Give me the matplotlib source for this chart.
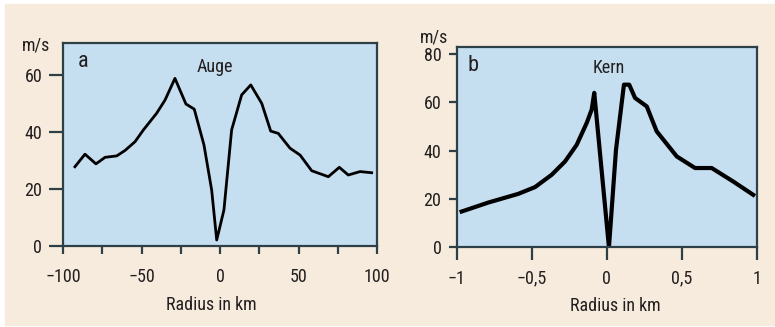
import numpy as np
import matplotlib
matplotlib.use("Agg")
import matplotlib.pyplot as plt
from matplotlib.patches import Rectangle
from matplotlib.ticker import MultipleLocator

plt.rcParams['font.family'] = ['Roboto Condensed', 'Liberation Sans Narrow', 'Lato', 'DejaVu Sans']

# panel a: Auge
radius_a = [-92.4, -86, -79, -73.2, -65.8, -60.5, -54.1, -48.8, -40.3, -35, -28.7,
            -21.7, -16.4, -10.2, -5.3, -2.1, 2.5, 7.4, 13.8, 19.6, 26.6, 32.3,
            37.1, 44.6, 51, 58.4, 69, 76, 81.7, 89.2, 96.6]
speed_a = [27.8, 32.2, 28.8, 31.1, 31.6, 33.5, 36.6, 40.7, 46.6, 51.2, 58.8,
           49.8, 48, 35.4, 19.6, 2.1, 12.6, 40.7, 53, 56.5, 50, 40.3,
           39.5, 34.3, 31.9, 26.4, 24.3, 27.6, 24.9, 26.1, 25.7]

# panel b: Kern
radius_b = [-0.967, -0.79, -0.59, -0.478, -0.367, -0.278, -0.2, -0.133, -0.1, -0.083,
            0.015, 0.062, 0.115, 0.15, 0.189, 0.267, 0.333, 0.467, 0.589, 0.7,
            0.844, 0.977]
speed_b = [14.8, 18.5, 22.1, 24.9, 30, 35.5, 42.4, 51.5, 57, 63.9,
           0, 40.4, 67.3, 67.3, 61.8, 58.3, 48, 37.6, 32.8, 32.8,
           27.2, 21.7]

xticks_a = [-100, -50, 0, 50, 100]
xlabels_a = ['\u2212100', '\u221250', '0', '50', '100']
yticks_a = [0, 20, 40, 60]
xticks_b = [-1, -0.5, 0, 0.5, 1]
xlabels_b = ['\u22121', '\u22120,5', '0', '0,5', '1']
yticks_b = [0, 20, 40, 60, 80]

beige = '#f6ebdc'
blue = '#c5def0'
spine = '#2d3f47'
txt = '#231f20'
fs = 13

fig = plt.figure(figsize=(7.75, 3.27), dpi=100, facecolor='white')
bg = Rectangle((5 / 775, 2 / 327), 770 / 775, 321 / 327,
               transform=fig.transFigure, color=beige, zorder=-10)
fig.add_artist(bg)

ax1 = fig.add_axes([63 / 775, 81 / 327, 314 / 775, 203 / 327])
ax2 = fig.add_axes([456.7 / 775, 79.7 / 327, 300 / 775, 200.6 / 327])

ax1.plot(radius_a, speed_a, color='black', lw=2.0, solid_joinstyle='round')
ax2.plot(radius_b, speed_b, color='black', lw=3.0, solid_joinstyle='round')

ax1.set_xlim(-100, 100)
ax1.set_ylim(0, 71.2)
ax1.set_xticks(xticks_a)
ax1.set_xticklabels(xlabels_a)
ax1.xaxis.set_minor_locator(MultipleLocator(25))
ax1.set_yticks(yticks_a)

ax2.set_xlim(-1, 1)
ax2.set_ylim(0, 83)
ax2.set_xticks(xticks_b)
ax2.set_xticklabels(xlabels_b)
ax2.set_yticks(yticks_b)

for ax in (ax1, ax2):
    ax.set_facecolor(blue)
    for s in ax.spines.values():
        s.set_color(spine)
        s.set_linewidth(1.6)
    ax.tick_params(which='both', color=spine, labelcolor=txt, labelsize=fs, width=1.6)
    ax.set_xlabel('Radius in km', fontsize=fs, color=txt)

ax1.tick_params(axis='x', which='both', length=6, pad=10)
ax1.tick_params(axis='y', length=10, pad=5)
ax2.tick_params(axis='x', length=9, pad=7)
ax2.tick_params(axis='y', length=6, pad=5)
ax1.xaxis.set_label_coords(0.471, -0.245)
ax2.xaxis.set_label_coords(0.529, -0.25)

ax1.text(-0.041, 0.99, 'm/s', transform=ax1.transAxes, ha='right', va='center',
         fontsize=fs, color=txt)
ax2.text(-0.029, 1.048, 'm/s', transform=ax2.transAxes, ha='right', va='center',
         fontsize=fs, color=txt)
ax1.text(0.064, 0.909, 'a', transform=ax1.transAxes, ha='center', va='center',
         fontsize=16, color=txt)
ax2.text(0.053, 0.906, 'b', transform=ax2.transAxes, ha='center', va='center',
         fontsize=16, color=txt)
ax1.text(0.484, 0.882, 'Auge', transform=ax1.transAxes, ha='center', va='center',
         fontsize=fs, color=txt)
ax2.text(0.506, 0.894, 'Kern', transform=ax2.transAxes, ha='center', va='center',
         fontsize=fs, color=txt)

fig.savefig('out.png', dpi=100, facecolor=fig.get_facecolor())
